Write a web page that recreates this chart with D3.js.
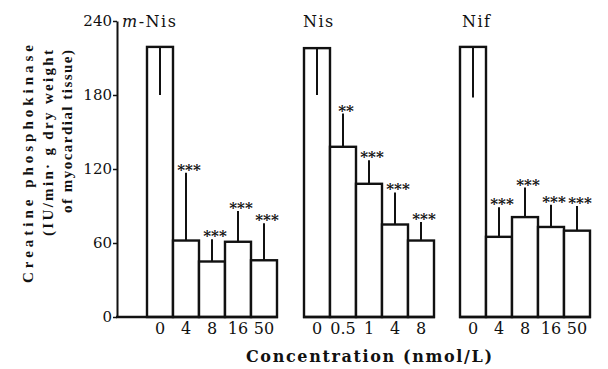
<!DOCTYPE html>
<html>
<head>
<meta charset="utf-8">
<script src="https://cdn.jsdelivr.net/npm/d3@7"></script>
<style>
  body { margin: 0; background: #fff; }
  svg text { font-family: "DejaVu Serif", serif; fill: #111; }
</style>
</head>
<body>
<div id="content"></div>
<script>
let width = 608;
let height = 369;

// Panel data
let panelNames = ["m-Nis", "Nis", "Nif"];
let mNisConc = ["0", "4", "8", "16", "50"];
let mNisMean = [219, 62, 45, 61, 46];
let mNisSD   = [39, 55, 18, 25, 30];
let mNisSig  = ["", "***", "***", "***", "***"];

let nisConc = ["0", "0.5", "1", "4", "8"];
let nisMean = [218, 138, 108, 75, 62];
let nisSD   = [38, 27, 19, 26, 15];
let nisSig  = ["", "**", "***", "***", "***"];

let nifConc = ["0", "4", "8", "16", "50"];
let nifMean = [219, 65, 81, 73, 70];
let nifSD   = [41, 24, 24, 18, 20];
let nifSig  = ["", "***", "***", "***", "***"];

let yTicks = [0, 60, 120, 180, 240];

let panels = [
  {name: panelNames[0], conc: mNisConc, mean: mNisMean, sd: mNisSD, sig: mNisSig, x0: 147, base0: 116, titleX: 122},
  {name: panelNames[1], conc: nisConc, mean: nisMean, sd: nisSD, sig: nisSig, x0: 304, base0: 303, titleX: 303},
  {name: panelNames[2], conc: nifConc, mean: nifMean, sd: nifSD, sig: nifSig, x0: 460, base0: 459, titleX: 462}
];
let barSpan = 130;

let svg = d3.select("#content")
    .append("svg")
    .attr("width", width)
    .attr("height", height);

let yScale = d3.scaleLinear()
    .domain([0, 240])
    .range([317, 21]);

// y axis on the first panel only
let yAxis = d3.axisLeft(yScale)
    .tickValues(yTicks)
    .tickSize(4)
    .tickSizeOuter(0)
    .tickPadding(1);

let yg = svg.append("g")
    .attr("transform", "translate(117,0)")
    .call(yAxis);
yg.select(".domain").attr("stroke", "#111").attr("stroke-width", 2);
yg.selectAll(".tick line").attr("stroke", "#111").attr("stroke-width", 1.5);
yg.selectAll(".tick text")
    .attr("font-size", 15)
    .attr("fill", "#111")
    .style("font-family", "DejaVu Serif");

panels.forEach(function(p) {
    let xScale = d3.scaleBand()
        .domain(p.conc)
        .range([p.x0, p.x0 + barSpan])
        .padding(0);

    let g = svg.append("g");
    let rows = p.conc.map(function(c, i) {
        return {conc: c, mean: p.mean[i], sd: p.sd[i], sig: p.sig[i], control: i === 0};
    });

    // bars
    g.selectAll(".bar")
        .data(rows)
        .enter()
        .append("rect")
        .attr("class", "bar")
        .attr("x", d => xScale(d.conc))
        .attr("y", d => yScale(d.mean))
        .attr("width", xScale.bandwidth())
        .attr("height", d => yScale(0) - yScale(d.mean))
        .attr("fill", "#fff")
        .attr("stroke", "#111")
        .attr("stroke-width", 2.4);

    // error bars: control goes down inside the bar, treated go up
    g.selectAll(".err")
        .data(rows)
        .enter()
        .append("line")
        .attr("class", "err")
        .attr("x1", d => xScale(d.conc) + xScale.bandwidth() / 2)
        .attr("x2", d => xScale(d.conc) + xScale.bandwidth() / 2)
        .attr("y1", d => yScale(d.mean))
        .attr("y2", d => d.control ? yScale(d.mean - d.sd) : yScale(d.mean + d.sd))
        .attr("stroke", "#111")
        .attr("stroke-width", 2);

    // significance stars
    g.selectAll(".sig")
        .data(rows.filter(d => d.sig))
        .enter()
        .append("text")
        .attr("class", "sig")
        .attr("x", d => xScale(d.conc) + xScale.bandwidth() / 2 + 3)
        .attr("y", d => yScale(d.mean + d.sd) + 2)
        .attr("text-anchor", "middle")
        .attr("font-size", 15)
        .attr("font-weight", "bold")
        .text(d => d.sig);

    // baseline
    g.append("line")
        .attr("x1", p.base0)
        .attr("x2", p.x0 + barSpan + 1)
        .attr("y1", yScale(0))
        .attr("y2", yScale(0))
        .attr("stroke", "#111")
        .attr("stroke-width", 2.4);

    // x tick labels
    let xAxis = d3.axisBottom(xScale).tickSize(0).tickPadding(6);
    let xg = svg.append("g")
        .attr("transform", "translate(0," + yScale(0) + ")")
        .call(xAxis);
    xg.select(".domain").remove();
    xg.selectAll(".tick text")
        .attr("font-size", 16)
        .attr("fill", "#111")
        .style("font-family", "DejaVu Serif");

    // panel title
    let title = svg.append("text")
        .attr("x", p.titleX)
        .attr("y", 27)
        .attr("font-size", 16)
        .attr("letter-spacing", 1.5);
    if (p.name.indexOf("m-") === 0) {
        title.append("tspan").attr("font-style", "italic").text("m");
        title.append("tspan").text(p.name.slice(1));
    } else {
        title.text(p.name);
    }
});

// y axis title, three rotated lines
let yTitle = ["Creatine phosphokinase", "(IU/min\u00b7 g dry weight", "of myocardial tissue)"];
let yTitleX = [33, 53, 72];
let yTitleLen = [238, 186, 163];
let yTitleTop = [45, 50, 50];
yTitle.forEach(function(t, i) {
    svg.append("text")
        .attr("transform", "translate(" + yTitleX[i] + "," + yTitleTop[i] + ") rotate(-90)")
        .attr("text-anchor", "end")
        .attr("font-size", 15)
        .attr("font-weight", "bold")
        .style("font-family", "Liberation Serif")
        .attr("textLength", yTitleLen[i])
        .attr("lengthAdjust", "spacing")
        .text(t);
});

// x axis title
svg.append("text")
    .attr("x", 246)
    .attr("y", 362)
    .attr("font-size", 16)
    .attr("font-weight", "bold")
    .attr("textLength", 246)
    .attr("lengthAdjust", "spacing")
    .text("Concentration (nmol/L)");
</script>
</body>
</html>
